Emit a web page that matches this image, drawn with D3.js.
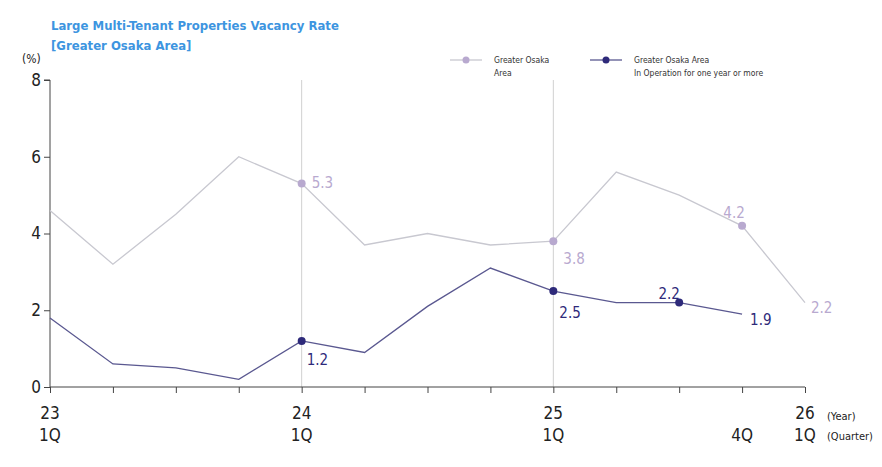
<!DOCTYPE html>
<html><head><meta charset="utf-8">
<script src="https://cdn.jsdelivr.net/npm/d3@7"></script>
<style>body{margin:0;background:#fff}text{font-family:"DejaVu Sans Condensed","DejaVu Sans",sans-serif}</style>
</head><body><svg id="c" width="882" height="467"></svg>
<script>
const quarters=["23 1Q","23 2Q","23 3Q","23 4Q","24 1Q","24 2Q","24 3Q","24 4Q","25 1Q","25 2Q","25 3Q","25 4Q","26 1Q"];
const osaka=[4.6,3.2,4.5,6.0,5.3,3.7,4.0,3.7,3.8,5.6,5.0,4.2,2.2];
const osakaOp=[1.8,0.6,0.5,0.2,1.2,0.9,2.1,3.1,2.5,2.2,2.2,1.9];
const yTicks=[0,2,4,6,8];
const xLabels=[{i:0,y:"23",q:"1Q"},{i:4,y:"24",q:"1Q"},{i:8,y:"25",q:"1Q"},{i:11,y:"",q:"4Q"},{i:12,y:"26",q:"1Q"}];
const lightMarks=[{i:4,dx:10,dy:0},{i:8,dx:10,dy:18},{i:11,dx:-8,dy:-12},{i:12,dx:6,dy:6,noDot:true}];
const darkMarks=[{i:4,dx:5,dy:20},{i:8,dx:6,dy:22},{i:10,dx:-10,dy:-8},{i:11,dx:8,dy:6,noDot:true}];
const light="#b8a9cf",lightLine="#c8c8d0",dark="#2e2a7a",darkLine="#5a5890";
const svg=d3.select("#c");
const x=d3.scaleLinear().domain([0,12]).range([50,805]);
const y=d3.scaleLinear().domain([0,8]).range([387,80]);
svg.append("text").attr("x",51).attr("y",30).attr("fill","#3d95e0").attr("font-weight","bold").attr("font-size",13).text("Large Multi-Tenant Properties Vacancy Rate");
svg.append("text").attr("x",51).attr("y",50).attr("fill","#3d95e0").attr("font-weight","bold").attr("font-size",13).text("[Greater Osaka Area]");
svg.append("text").attr("x",22).attr("y",63).attr("font-size",12).attr("fill","#222").text("(%)");
[4,8].forEach(i=>svg.append("line").attr("x1",x(i)).attr("x2",x(i)).attr("y1",80).attr("y2",387).attr("stroke","#d0d0d0"));
const ya=svg.append("g").attr("transform","translate(50,0)").call(d3.axisLeft(y).tickValues(yTicks).tickSize(6).tickFormat(d3.format("d")));
const xa=svg.append("g").attr("transform","translate(0,387)").call(d3.axisBottom(x).ticks(12).tickSize(6).tickFormat(""));
[ya,xa].forEach(a=>{a.selectAll("path,line").attr("stroke","#444");a.select(".domain").attr("d",null);});
ya.select(".domain").remove();xa.select(".domain").remove();
svg.append("line").attr("x1",50).attr("x2",50).attr("y1",80).attr("y2",387).attr("stroke","#444");
svg.append("line").attr("x1",50).attr("x2",805).attr("y1",387).attr("y2",387).attr("stroke","#444");
svg.append("line").attr("x1",44).attr("x2",50).attr("y1",80).attr("y2",80).attr("stroke","#444");
ya.selectAll("text").attr("font-size",17).attr("fill","#222").attr("font-family","DejaVu Sans Condensed");
xLabels.forEach(l=>{svg.append("text").attr("x",x(l.i)).attr("y",419).attr("text-anchor","middle").attr("font-size",17).attr("fill","#222").text(l.y);
 svg.append("text").attr("x",x(l.i)).attr("y",441).attr("text-anchor","middle").attr("font-size",17).attr("fill","#222").text(l.q);});
svg.append("text").attr("x",827).attr("y",420).attr("font-size",11).attr("fill","#222").text("(Year)");
svg.append("text").attr("x",827).attr("y",440).attr("font-size",11).attr("fill","#222").text("(Quarter)");
const line=d3.line().x((d,i)=>x(i)).y(d=>y(d));
svg.append("path").attr("d",line(osaka)).attr("fill","none").attr("stroke",lightLine).attr("stroke-width",1.3);
svg.append("path").attr("d",line(osakaOp)).attr("fill","none").attr("stroke",darkLine).attr("stroke-width",1.3);
function marks(data,arr,col){arr.forEach(m=>{if(!m.noDot)svg.append("circle").attr("cx",x(m.i)).attr("cy",y(data[m.i])).attr("r",4).attr("fill",col);
 svg.append("text").attr("x",x(m.i)+m.dx).attr("y",y(data[m.i])+m.dy).attr("font-size",15).attr("fill",col).attr("text-anchor",m.dx<0?"middle":"start").attr("dominant-baseline","middle").text(data[m.i].toFixed(1));});}
marks(osaka,lightMarks,light);marks(osakaOp,darkMarks,dark);
const lg=[{x:450,col:light,lc:lightLine,t:["Greater Osaka","Area"]},{x:590,col:dark,lc:darkLine,t:["Greater Osaka Area","In Operation for one year or more"]}];
lg.forEach(g=>{svg.append("line").attr("x1",g.x).attr("x2",g.x+32).attr("y1",60).attr("y2",60).attr("stroke",g.lc).attr("stroke-width",1.3);
 svg.append("circle").attr("cx",g.x+16).attr("cy",60).attr("r",3.5).attr("fill",g.col);
 g.t.forEach((s,k)=>svg.append("text").attr("x",g.x+44).attr("y",63+k*13).attr("font-size",8.5).attr("fill","#333").text(s));});
</script></body></html>
